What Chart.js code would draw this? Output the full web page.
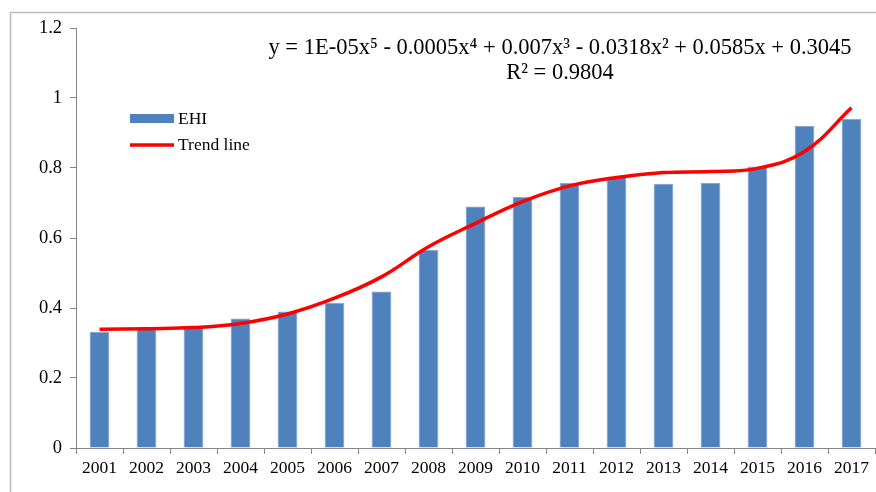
<!DOCTYPE html>
<html>
<head>
<meta charset="utf-8">
<script src="https://cdn.jsdelivr.net/npm/chart.js@4/dist/chart.umd.min.js"></script>
<style>
  html,body{margin:0;padding:0;background:#fff;}
  #wrap{width:876px;height:492px;position:relative;}
</style>
</head>
<body>
<div id="wrap"><canvas id="c" width="876" height="492"></canvas></div>
<script>
const years = ['2001','2002','2003','2004','2005','2006','2007','2008','2009','2010','2011','2012','2013','2014','2015','2016','2017'];
const ehiValues = [0.332, 0.340, 0.349, 0.370, 0.390, 0.415, 0.447, 0.566, 0.690, 0.718, 0.758, 0.775, 0.755, 0.758, 0.804, 0.921, 0.940];
const trendValues = [0.339, 0.341, 0.344, 0.356, 0.383, 0.428, 0.489, 0.575, 0.642, 0.704, 0.749, 0.773, 0.787, 0.790, 0.799, 0.847, 0.972];
const yTicks = [0, 0.2, 0.4, 0.6, 0.8, 1, 1.2];
const yTickLabels = ['0', '0.2', '0.4', '0.6', '0.8', '1', '1.2'];
const equationText = 'y = 1E-05x\u2075 - 0.0005x\u2074 + 0.007x\u00B3 - 0.0318x\u00B2 + 0.0585x + 0.3045';
const r2Text = 'R\u00B2 = 0.9804';
const seriesNames = ['EHI', 'Trend line'];

const SERIF = '"Liberation Serif", "Times New Roman", serif';
const AXIS = '#868686';

const framePlugin = {
  id: 'frame',
  beforeDraw(chart) {
    const ctx = chart.ctx;
    ctx.save();
    ctx.fillStyle = '#fff';
    ctx.fillRect(0, 0, chart.width, chart.height);
    ctx.strokeStyle = '#bdbdbd';
    ctx.lineWidth = 1.5;
    ctx.strokeRect(10.5, 12.5, chart.width + 20, chart.height + 20);
    ctx.restore();
  },
  afterDraw(chart) {
    const ctx = chart.ctx;
    ctx.save();
    // equation
    ctx.fillStyle = '#000';
    ctx.font = '22.5px ' + SERIF;
    ctx.textAlign = 'center';
    ctx.textBaseline = 'middle';
    ctx.fillText(equationText, 560, 48);
    ctx.fillText(r2Text, 560, 73);
    // legend
    const bars = chart.data.datasets.find(d => d.type === 'bar');
    const line = chart.data.datasets.find(d => d.type === 'line');
    ctx.fillStyle = bars.backgroundColor;
    ctx.fillRect(130, 114, 44, 9);
    ctx.strokeStyle = line.borderColor;
    ctx.lineWidth = 3.5;
    ctx.beginPath();
    ctx.moveTo(130, 145);
    ctx.lineTo(174, 145);
    ctx.stroke();
    ctx.fillStyle = '#000';
    ctx.font = '17.5px ' + SERIF;
    ctx.textAlign = 'left';
    ctx.fillText(bars.label, 178, 119);
    ctx.fillText(line.label, 178, 145);
    ctx.restore();
  }
};

new Chart(document.getElementById('c'), {
  type: 'bar',
  data: {
    labels: years,
    datasets: [
      {
        type: 'line',
        label: seriesNames[1],
        data: trendValues,
        borderColor: '#ff0000',
        backgroundColor: '#ff0000',
        borderWidth: 3.5,
        pointRadius: 0,
        tension: 0.4,
        fill: false,
        order: 0
      },
      {
        type: 'bar',
        label: seriesNames[0],
        data: ehiValues,
        backgroundColor: '#4f81bd',
        borderColor: '#7fa3cf',
        borderWidth: 0.8,
        barPercentage: 0.42,
        categoryPercentage: 1.0,
        order: 1
      }
    ]
  },
  options: {
    responsive: false,
    animation: false,
    devicePixelRatio: 1,
    layout: { padding: { top: 28, right: 1, left: 0, bottom: 0 } },
    plugins: {
      legend: { display: false },
      tooltip: { enabled: false },
      title: { display: false }
    },
    scales: {
      x: {
        offset: true,
        grid: { offset: true, drawOnChartArea: false, drawTicks: true, tickLength: 6, color: AXIS },
        border: { display: true, color: AXIS, width: 1 },
        ticks: { color: '#000', font: { family: SERIF, size: 17.5 }, padding: 4, maxRotation: 0, autoSkip: false },
        afterFit(scale) { scale.height = 44; }
      },
      y: {
        min: 0,
        max: 1.2,
        afterBuildTicks(scale) { scale.ticks = yTicks.map(v => ({ value: v })); },
        grid: { drawOnChartArea: false, drawTicks: true, tickLength: 6, color: AXIS },
        border: { display: true, color: AXIS, width: 1 },
        ticks: {
          color: '#000', font: { family: SERIF, size: 18.5 }, padding: 8,
          callback: (v, i) => yTickLabels[i]
        },
        afterFit(scale) { scale.width = 76; }
      }
    }
  },
  plugins: [framePlugin]
});
</script>
</body>
</html>
